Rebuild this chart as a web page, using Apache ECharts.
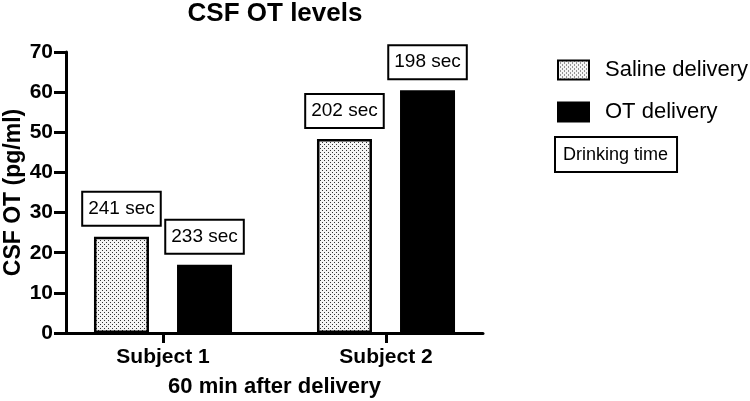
<!DOCTYPE html>
<html><head><meta charset="utf-8">
<script src="https://cdn.jsdelivr.net/npm/echarts@6/dist/echarts.min.js"></script>
<style>html,body{margin:0;padding:0;background:#fff}#c{width:750px;height:401px}</style>
</head><body><div id="c"></div>
<script>
const categories = ['Subject 1', 'Subject 2'];
const salineValues = [24, 48.3];
const otValues = [17, 60.5];
const salineTimes = ['241 sec', '202 sec'];
const otTimes = ['233 sec', '198 sec'];
const yTicks = [0, 10, 20, 30, 40, 50, 60, 70];

const FONT = '"Liberation Sans", Arial, Helvetica, sans-serif';

// dotted pattern
const pc = document.createElement('canvas');
pc.width = 4; pc.height = 4;
const pctx = pc.getContext('2d');
pctx.fillStyle = '#f4f4f4'; pctx.fillRect(0, 0, 4, 4);
pctx.fillStyle = '#333';
pctx.fillRect(0, 0, 1, 1);
pctx.fillRect(2, 2, 1, 1);
const dotPattern = { image: pc, repeat: 'repeat' };

const chart = echarts.init(document.getElementById('c'), null, { renderer: 'canvas' });

function labelFor(times) {
  return {
    show: true, position: 'top', distance: 12,
    formatter: p => times[p.dataIndex],
    fontFamily: FONT, fontSize: 19, color: '#000', lineHeight: 20,
    borderColor: '#000', borderWidth: 2, padding: [6, 5, 6, 5], backgroundColor: '#fff'
  };
}

chart.setOption({
  animation: false,
  textStyle: { fontFamily: FONT },
  title: {
    text: 'CSF OT levels', left: 270, top: -4, textAlign: 'center',
    textStyle: { fontFamily: FONT, fontSize: 26, fontWeight: 'bold', color: '#000' }
  },
  legend: {
    left: 557, top: 59, padding: 0, orient: 'vertical', itemWidth: 31, itemHeight: 19, itemGap: 20,
    icon: 'rect',
    data: ['Saline delivery', 'OT delivery'],
    textStyle: { fontFamily: FONT, fontSize: 22, color: '#000', padding: [0, 0, 0, 11] }
  },
  graphic: [{
    type: 'text', left: 554, top: 136,
    style: {
      text: 'Drinking time', font: '18px ' + FONT, fill: '#000',
      borderColor: '#000', borderWidth: 2, padding: [8, 8, 7, 7], backgroundColor: '#fff'
    }
  }],
  grid: [
    { left: 51.5, width: 446, top: 52, bottom: 68, outerBoundsMode: 'none', containLabel: false },
    { left: 66, width: 417, top: 52, bottom: 68, outerBoundsMode: 'none', containLabel: false }
  ],
  xAxis: [
    {
      type: 'category', gridIndex: 0, data: categories,
      axisLine: { show: false },
      axisTick: { show: true, alignWithLabel: true, length: 10, lineStyle: { color: '#000', width: 3 } },
      axisLabel: { fontFamily: FONT, fontSize: 21, fontWeight: 'bold', color: '#000', margin: 14 },
      splitLine: { show: false }
    },
    {
      type: 'value', gridIndex: 1, min: 0, max: 1,
      name: '60 min after delivery', nameLocation: 'middle', nameGap: 43, nameMoveOverlap: false,
      nameTextStyle: { fontFamily: FONT, fontSize: 22, fontWeight: 'bold', color: '#000' },
      axisLine: { show: true, onZero: false, lineStyle: { color: '#000', width: 3 } },
      axisTick: { show: false }, axisLabel: { show: false }, splitLine: { show: false }
    }
  ],
  yAxis: [
    { type: 'value', gridIndex: 0, min: 0, max: 70, interval: 10, show: false, splitLine: { show: false } },
    {
      type: 'value', gridIndex: 1, min: 0, max: 70, interval: 10,
      name: 'CSF OT (pg/ml)', nameLocation: 'middle', nameGap: 41, nameMoveOverlap: false,
      nameTextStyle: { fontFamily: FONT, fontSize: 23, fontWeight: 'bold', color: '#000' },
      axisLine: { show: true, onZero: false, lineStyle: { color: '#000', width: 3 } },
      axisTick: { show: true, length: 12, lineStyle: { color: '#000', width: 3 } },
      axisLabel: { fontFamily: FONT, fontSize: 21, fontWeight: 'bold', color: '#000', margin: 13,
        customValues: yTicks },
      splitLine: { show: false }
    }
  ],
  series: [
    {
      name: 'Saline delivery', type: 'bar', xAxisIndex: 0, yAxisIndex: 0,
      data: salineValues, barWidth: 55, barGap: '51%',
      itemStyle: { color: dotPattern, borderColor: '#000', borderWidth: 2.5 },
      label: labelFor(salineTimes)
    },
    {
      name: 'OT delivery', type: 'bar', xAxisIndex: 0, yAxisIndex: 0,
      data: otValues, barWidth: 55,
      itemStyle: { color: '#000', borderColor: '#000', borderWidth: 2.5 },
      label: labelFor(otTimes)
    }
  ]
});
</script></body></html>
